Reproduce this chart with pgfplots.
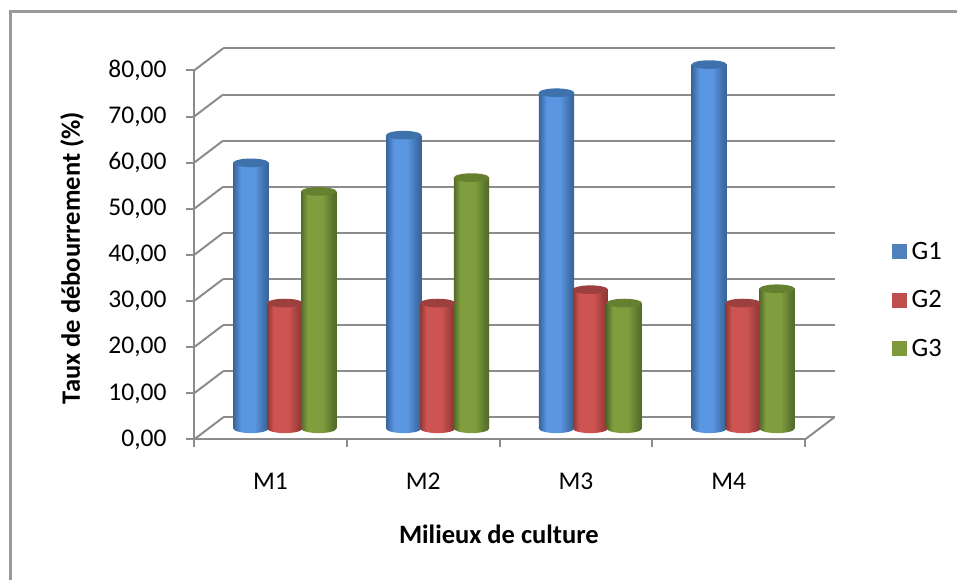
\documentclass[border=0pt]{standalone}
\usepackage{fontspec}
\setmainfont{Carlito}
\usepackage{pgfplots}
\usepackage{pgfplotstable}
\pgfplotsset{compat=1.18}

\definecolor{wallgray}{HTML}{8C8C8C}
\definecolor{framegray}{HTML}{9A9A9A}
\definecolor{blueedge}{HTML}{38659A}
\definecolor{bluemid}{HTML}{5A96E2}
\definecolor{bluecap}{HTML}{3F72AC}
\definecolor{rededge}{HTML}{8E3735}
\definecolor{redmid}{HTML}{CE5452}
\definecolor{redcap}{HTML}{9B403E}
\definecolor{greenedge}{HTML}{536B2A}
\definecolor{greenmid}{HTML}{809E3E}
\definecolor{greencap}{HTML}{65802F}
\definecolor{legblue}{HTML}{4F81BD}
\definecolor{legred}{HTML}{C0504D}
\definecolor{leggreen}{HTML}{7D9A3C}

% Cylinder side shading: dark rims around a broad bright centre
\pgfdeclarehorizontalshading{cylblue}{100bp}{color(0bp)=(blueedge); color(25bp)=(blueedge); color(36bp)=(bluemid); color(55bp)=(bluemid); color(70bp)=(blueedge!85!bluemid); color(75bp)=(blueedge); color(100bp)=(blueedge)}
\pgfdeclarehorizontalshading{cylred}{100bp}{color(0bp)=(rededge); color(25bp)=(rededge); color(34bp)=(redmid); color(55bp)=(redmid); color(70bp)=(rededge!85!redmid); color(75bp)=(rededge); color(100bp)=(rededge)}
\pgfdeclarehorizontalshading{cylgreen}{100bp}{color(0bp)=(greenedge); color(25bp)=(greenedge); color(34bp)=(greenmid); color(55bp)=(greenmid); color(70bp)=(greenedge!85!greenmid); color(75bp)=(greenedge); color(100bp)=(greenedge)}

% Elliptical ends of the cylinders
\newcommand{\cylend}[3]{%
  \pgfdeclareplotmark{#1cap}{\fill[draw=none,#2,rotate=7] (0,0) ellipse [x radius=17.6pt,y radius=4.3pt];}%
  \pgfdeclareplotmark{#1base}{\path[draw=none,shade,shading=#3,rotate=7] (0,0) ellipse [x radius=17.6pt,y radius=4.6pt];}%
}
\cylend{b}{bluecap}{cylblue}
\cylend{r}{redcap}{cylred}
\cylend{g}{greencap}{cylgreen}

\pgfplotstableread{
x    G1    G2    G3
0.5  57.6  27.2  51.4
1.5  63.6  27.2  54.4
2.5  72.8  30.1  27.2
3.5  78.9  27.2  30.3
}\tauxdata

% one cylinder per table row, so that each one carries its own shading
\newcommand{\cylinder}[6]{%
  \addplot[forget plot,only marks,mark=#1base,xshift=#3,skip coords between index={0}{#5},skip coords between index={#6}{4}] table[x=x,y expr=0]{\tauxdata};
  \addplot[forget plot,ybar,bar width=35.2pt,bar shift=#3,draw=none,shade,shading=#4,skip coords between index={0}{#5},skip coords between index={#6}{4}] table[x=x,y=#2]{\tauxdata};
  \addplot[forget plot,only marks,mark=#1cap,xshift=#3,skip coords between index={0}{#5},skip coords between index={#6}{4}] table[x=x,y=#2]{\tauxdata};
}
\newcommand{\serie}[4]{%
  \cylinder{#1}{#2}{#3}{#4}{0}{1}
  \cylinder{#1}{#2}{#3}{#4}{1}{2}
  \cylinder{#1}{#2}{#3}{#4}{2}{3}
  \cylinder{#1}{#2}{#3}{#4}{3}{4}
}

\begin{document}
\begin{tikzpicture}[x=1pt,y=1pt]
\useasboundingbox (0,0) rectangle (957,580);
% chart area border: left and top edges
\draw[framegray,line width=2.6pt] (10.5,0) -- (10.5,568.5) -- (957,568.5);

% back wall with its gridlines
\begin{axis}[
  at={(223pt,162.5pt)},anchor=south west,scale only axis,
  width=612pt,height=369pt,
  xmin=0,xmax=4,ymin=0,ymax=80,
  xtick=\empty,ytick={0,10,...,80},yticklabels={},
  major tick length=0pt,
  axis line style={draw=none},
  ymajorgrids,
  grid style={wallgray,line width=2pt},
]
\addplot[draw=none] coordinates {(0,0)};
\end{axis}

% front plane: axes, ticks, labels and the floor and wall diagonals
\begin{axis}[
  at={(194pt,140.5pt)},anchor=south west,scale only axis,
  width=611pt,height=369pt,
  xmin=0,xmax=4,ymin=0,ymax=80,
  clip=false,
  axis x line=bottom,axis y line=left,
  axis line style={-,wallgray,line width=2pt},
  tick style={wallgray,line width=2pt},
  tick align=outside,major tick length=8pt,
  xtick={0,1,2,3,4},xticklabels={M1,M2,M3,M4},
  x tick label as interval,
  ytick={0,10,...,80},
  tick label style={font=\fontsize{25.5}{30}\selectfont,text=black},
  xticklabel style={yshift=-22pt},
  yticklabel style={xshift=-16pt,
    /pgf/number format/.cd,fixed,fixed zerofill,precision=2,use comma,assume math mode=true},
  xlabel={Milieux de culture},
  ylabel={Taux de débourrement (\%)},
  xlabel style={font=\bfseries\fontsize{26.5}{30}\selectfont,at={(axis description cs:0.499,-0.256)},anchor=center},
  ylabel style={font=\bfseries\fontsize{26.5}{30}\selectfont,at={(axis description cs:-0.1997,0.492)},anchor=center},
]
\pgfplotsinvokeforeach{0,10,...,80}{
  \addplot[wallgray,line width=2pt,forget plot] coordinates {(0,#1) (0.18985,#1+4.77)};
}
\addplot[wallgray,line width=2pt,forget plot] coordinates {(4,0) (4.19,4.77)};
\end{axis}

% cylinders, placed at mid depth of the floor
\begin{axis}[
  at={(208.5pt,151.5pt)},anchor=south west,scale only axis,
  width=611pt,height=369pt,
  xmin=0,xmax=4,ymin=0,ymax=80,
  clip=false,axis lines=none,
  legend style={at={(rel axis cs:1.1187,0.348)},anchor=west,draw=none,fill=none,
    font=\fontsize{26.5}{30}\selectfont,row sep=26pt,inner sep=0pt,
    /tikz/every odd column/.append style={column sep=2.5pt}},
  legend cell align=left,
  legend image code/.code={\fill[draw=none,#1] (0pt,-7.5pt) rectangle (15pt,7.5pt);},
]
\serie{b}{G1}{-33.9pt}{cylblue}
\serie{r}{G2}{0pt}{cylred}
\serie{g}{G3}{33.9pt}{cylgreen}
\addlegendimage{fill=legblue,draw=none}\addlegendentry{G1}
\addlegendimage{fill=legred,draw=none}\addlegendentry{G2}
\addlegendimage{fill=leggreen,draw=none}\addlegendentry{G3}
\end{axis}
\end{tikzpicture}
\end{document}
